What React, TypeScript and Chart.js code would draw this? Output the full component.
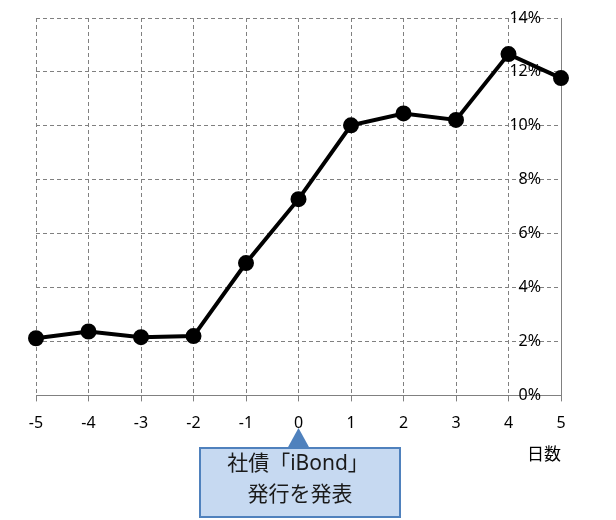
import React, { useEffect, useRef } from "react";
import { Chart, registerables } from "chart.js";

Chart.register(...registerables);

const days = [-5, -4, -3, -2, -1, 0, 1, 2, 3, 4, 5];
const rates = [2.12, 2.37, 2.16, 2.2, 4.91, 7.28, 10.02, 10.46, 10.22, 12.66, 11.77];
const yTicks = [0, 2, 4, 6, 8, 10, 12, 14];
const xTitle = "日数";
const calloutLines = ["社債「iBond」", "発行を発表"];
const calloutDay = 0;

const FONT = '"Noto Sans", "Noto Sans CJK JP", sans-serif';

const calloutPlugin = {
  id: "callout",
  afterDraw(chart: any) {
    const ctx = chart.ctx;
    const xs = chart.scales.x;
    const ax = xs.getPixelForValue(calloutDay);
    const boxL = 200, boxR = 400, boxT = 448, boxB = 517;
    ctx.save();
    ctx.fillStyle = "#C6D9F1";
    ctx.fillRect(boxL, boxT, boxR - boxL, boxB - boxT);
    ctx.strokeStyle = "#4F81BD";
    ctx.lineWidth = 2;
    ctx.strokeRect(boxL, boxT, boxR - boxL, boxB - boxT);
    ctx.fillStyle = "#4F81BD";
    ctx.beginPath();
    ctx.moveTo(ax - 11, boxT);
    ctx.lineTo(ax + 11, boxT);
    ctx.lineTo(ax, 428);
    ctx.closePath();
    ctx.fill();
    ctx.fillStyle = "#1a1a1a";
    ctx.font = "21px " + FONT;
    ctx.textAlign = "center";
    ctx.textBaseline = "middle";
    ctx.fillText(calloutLines[0], 298, 464);
    ctx.fillText(calloutLines[1], 300, 495);
    ctx.restore();
  },
};

export default function App() {
  const ref = useRef<HTMLCanvasElement | null>(null);
  useEffect(() => {
    if (!ref.current) return;
    const chart = new Chart(ref.current, {
      type: "line",
      data: {
        datasets: [
          {
            data: days.map((d, i) => ({ x: d, y: rates[i] })),
            borderColor: "#000000",
            backgroundColor: "#000000",
            borderWidth: 4,
            pointRadius: 6,
            pointBackgroundColor: "#000000",
            pointBorderColor: "#000000",
            tension: 0,
            clip: false,
          },
        ],
      },
      options: {
        responsive: false,
        animation: false,
        events: [],
        layout: { padding: { left: 36, right: 55, top: 18, bottom: 55 } },
        plugins: { legend: { display: false }, tooltip: { enabled: false } },
        scales: {
          x: {
            type: "linear",
            min: -5,
            max: 5,
            afterBuildTicks: (s: any) => {
              s.ticks = days.map((d) => ({ value: d }));
            },
            ticks: {
              font: { family: FONT, size: 16 },
              color: "#000000",
              padding: 12,
              maxRotation: 0,
              autoSkip: false,
            },
            grid: {
              color: "#808080",
              tickBorderDash: [],
              tickColor: "#808080",
              tickLength: 6,
              lineWidth: 1,
            },
            border: { color: "#808080", width: 1, dash: [4, 3] },
            title: {
              display: true,
              text: xTitle,
              align: "end",
              font: { family: FONT, size: 17 },
              color: "#000000",
              padding: { top: 0, bottom: 0 },
            },
          },
          y: {
            position: "right",
            min: 0,
            max: 14,
            afterBuildTicks: (s: any) => {
              s.ticks = yTicks.map((v) => ({ value: v }));
            },
            ticks: {
              mirror: true,
              padding: -20,
              font: { family: FONT, size: 16 },
              color: "#000000",
              callback: (v: any) => v + "%",
            },
            grid: {
              color: "#808080",
              drawTicks: false,
              tickLength: 0,
              lineWidth: 1,
            },
            border: { color: "#808080", width: 1, dash: [4, 3] },
          },
        },
      },
      plugins: [calloutPlugin],
    } as any);
    return () => chart.destroy();
  }, []);
  return (
    <div style={{ position: "absolute", left: 0, top: 0, width: 616, height: 520 }}>
      <canvas ref={ref} width={616} height={520} />
    </div>
  );
}
